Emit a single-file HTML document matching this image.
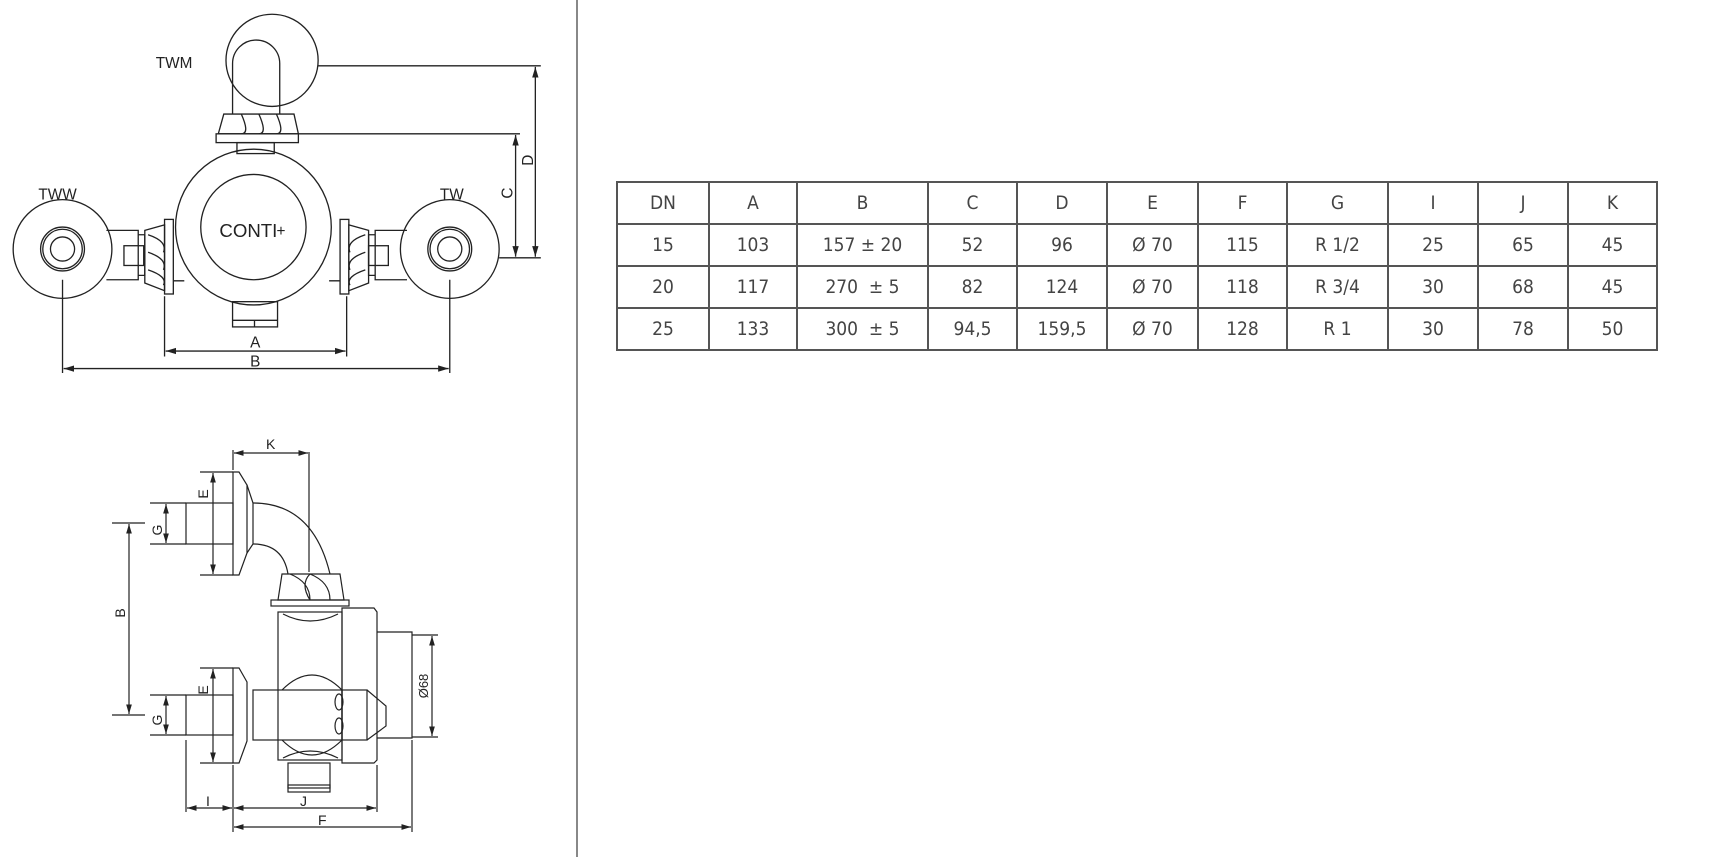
<!DOCTYPE html>
<html><head><meta charset="utf-8"><style>
body{margin:0;width:1712px;height:857px;background:#fff;overflow:hidden;position:relative;font-family:"Liberation Sans",sans-serif}
svg{position:absolute;left:0;top:0}
table{position:absolute;left:616px;top:181px;border-collapse:collapse;font-family:"DejaVu Sans Condensed","Liberation Sans Narrow","Liberation Sans",sans-serif;font-size:19px;color:#444}
td{border:2px solid #555;text-align:center;height:40px;padding:0}
</style></head><body>
<svg width="1712" height="857" viewBox="0 0 1712 857" fill="none" stroke="#222" stroke-width="1.2" font-family="Liberation Sans, sans-serif">
<defs><marker id="a" viewBox="0 0 10 10" refX="10" refY="5" markerWidth="8" markerHeight="8" orient="auto-start-reverse"><path d="M0,2L10,5L0,8z" fill="#222" stroke="none"/></marker></defs>
<line x1="577" y1="0" x2="577" y2="857" stroke="#888" stroke-width="2"/>
<g transform="scale(1.097)">
<circle cx="248" cy="55" r="42"/>
<path d="M212,104V58a21.5,21.5 0 0 1 43,0V104" />
<path d="M204,104H268L272,122H199Z"/>
<path d="M220,104q8,18 0,18M236,104q8,18 0,18M252,104q8,18 0,18"/>
<rect x="197" y="122" width="75" height="8"/>
<rect x="216" y="130" width="34" height="10"/>
<circle cx="231" cy="207" r="71"/>
<circle cx="231" cy="207" r="48"/>
<text x="200" y="216" font-size="17" fill="#222" stroke="none">CONTI</text>
<text x="252" y="215" font-size="14" fill="#222" stroke="none">+</text>
<circle cx="57" cy="227" r="45"/>
<circle cx="57" cy="227" r="20"/><circle cx="57" cy="227" r="18"/><circle cx="57" cy="227" r="11"/>
<circle cx="410" cy="227" r="45"/>
<circle cx="410" cy="227" r="20"/><circle cx="410" cy="227" r="18"/><circle cx="410" cy="227" r="11"/>
<path d="M97,210H126V255H97M126,214H132V251H126"/><rect x="113" y="224" width="18" height="18"/>
<path d="M132,210L150,205V265L132,258Z"/><path d="M135,214q18,6 14,16M135,230q18,6 14,16M135,246q18,6 14,14"/>
<rect x="150" y="200" width="8" height="68"/>
<path d="M371,210H342V255H371M342,214H336V251H342"/><rect x="336" y="224" width="18" height="18"/>
<path d="M336,210L318,205V265L336,258Z"/><path d="M333,214q-18,6 -14,16M333,230q-18,6 -14,16M333,246q-18,6 -14,14"/>
<rect x="310" y="200" width="8" height="68"/>
<path d="M158,256H168M300,256H310"/>
<rect x="212" y="275" width="41" height="23"/><path d="M212,292H253M232,292V298"/>
<path d="M150,270V325M316,270V325M57,255V340M410,255V340"/>
<line x1="151" y1="320" x2="315" y2="320" marker-start="url(#a)" marker-end="url(#a)"/>
<line x1="58" y1="336" x2="409" y2="336" marker-start="url(#a)" marker-end="url(#a)"/>
<path d="M290,60H493M272,122H474M455,235H493"/>
<line x1="470" y1="123" x2="470" y2="234" marker-start="url(#a)" marker-end="url(#a)"/>
<line x1="488" y1="61" x2="488" y2="234" marker-start="url(#a)" marker-end="url(#a)"/>
<g fill="#222" stroke="none" font-size="14">
<text x="142" y="62">TWM</text><text x="35" y="182">TWW</text><text x="401" y="182">TW</text>
<text x="228" y="317">A</text><text x="228" y="334">B</text>
<text transform="translate(467,176) rotate(-90)" text-anchor="middle">C</text>
<text transform="translate(486,146) rotate(-90)" text-anchor="middle">D</text>
</g>
</g>
<!-- bottom drawing -->
<path d="M233,472V575h6l8-22V485l-8-13Z"/>
<rect x="186" y="503" width="47" height="41"/>
<path d="M247,485l6,18V544l-6,9"/>
<path d="M253,503q60,0 77,71M253,544q30,0 35,30"/>
<path d="M282,574H340L344,600H278Z"/><path d="M290,574q20,8 20,26M310,574q-10,10 0,26M310,574q20,8 20,26"/>
<rect x="271" y="600" width="78" height="6"/>
<rect x="278" y="612" width="64" height="148"/>
<path d="M283,614q27,14 55,0M283,758q27,-14 55,0"/>
<path d="M342,608H374L377,612V760L374,763H342Z"/>
<path d="M377,632H412V738H377"/>
<path d="M233,668V763h6l8-22V682l-8-14Z"/>
<rect x="186" y="695" width="47" height="40"/>
<rect x="253" y="690" width="89" height="50"/>
<path d="M282,690q30,-30 60,0M282,740q30,30 60,0"/>
<rect x="342" y="690" width="25" height="50"/><path d="M367,690L386,706V726L367,740"/>
<ellipse cx="339" cy="702" rx="4" ry="8"/><ellipse cx="339" cy="726" rx="4" ry="8"/>
<rect x="288" y="763" width="42" height="25"/><rect x="288" y="785" width="42" height="7"/>
<path d="M233,450V470M309,452V572M200,472H233M200,575H233M150,503H186M150,544H186M112,523H145M112,715H145M200,668H233M200,763H233M150,695H186M150,735H186M186,740V812M233,765V832M377,765V812M412,740V832M412,635H438M412,737H438"/>
<line x1="234" y1="453" x2="308" y2="453" marker-start="url(#a)" marker-end="url(#a)"/>
<line x1="213" y1="473" x2="213" y2="574" marker-start="url(#a)" marker-end="url(#a)"/>
<line x1="166" y1="504" x2="166" y2="543" marker-start="url(#a)" marker-end="url(#a)"/>
<line x1="213" y1="669" x2="213" y2="762" marker-start="url(#a)" marker-end="url(#a)"/>
<line x1="166" y1="696" x2="166" y2="734" marker-start="url(#a)" marker-end="url(#a)"/>
<line x1="129" y1="524" x2="129" y2="714" marker-start="url(#a)" marker-end="url(#a)"/>
<line x1="432" y1="636" x2="432" y2="736" marker-start="url(#a)" marker-end="url(#a)"/>
<line x1="187" y1="808" x2="232" y2="808" marker-start="url(#a)" marker-end="url(#a)"/>
<line x1="234" y1="808" x2="376" y2="808" marker-start="url(#a)" marker-end="url(#a)"/>
<line x1="234" y1="827" x2="411" y2="827" marker-start="url(#a)" marker-end="url(#a)"/>
<g fill="#222" stroke="none" font-size="14">
<text x="266" y="449">K</text><text x="206" y="806">I</text><text x="300" y="806">J</text><text x="318" y="825">F</text>
<text transform="translate(208,494) rotate(-90)" text-anchor="middle">E</text>
<text transform="translate(208,690) rotate(-90)" text-anchor="middle">E</text>
<text transform="translate(162,530) rotate(-90)" text-anchor="middle">G</text>
<text transform="translate(162,720) rotate(-90)" text-anchor="middle">G</text>
<text transform="translate(125,613) rotate(-90)" text-anchor="middle">B</text>
<text transform="translate(428,686) rotate(-90)" text-anchor="middle" font-size="13">Ø68</text>
</g>
</svg>
<table>
<tr><td style="width:90px">DN</td><td style="width:86px">A</td><td style="width:129px">B</td><td style="width:87px">C</td><td style="width:88px">D</td><td style="width:89px">E</td><td style="width:87px">F</td><td style="width:99px">G</td><td style="width:88px">I</td><td style="width:88px">J</td><td style="width:87px">K</td></tr>
<tr><td>15</td><td>103</td><td>157 ± 20</td><td>52</td><td>96</td><td>Ø 70</td><td>115</td><td>R 1/2</td><td>25</td><td>65</td><td>45</td></tr>
<tr><td>20</td><td>117</td><td>270 &nbsp;± 5</td><td>82</td><td>124</td><td>Ø 70</td><td>118</td><td>R 3/4</td><td>30</td><td>68</td><td>45</td></tr>
<tr><td>25</td><td>133</td><td>300 &nbsp;± 5</td><td>94,5</td><td>159,5</td><td>Ø 70</td><td>128</td><td>R 1</td><td>30</td><td>78</td><td>50</td></tr>
</table>
</body></html>
